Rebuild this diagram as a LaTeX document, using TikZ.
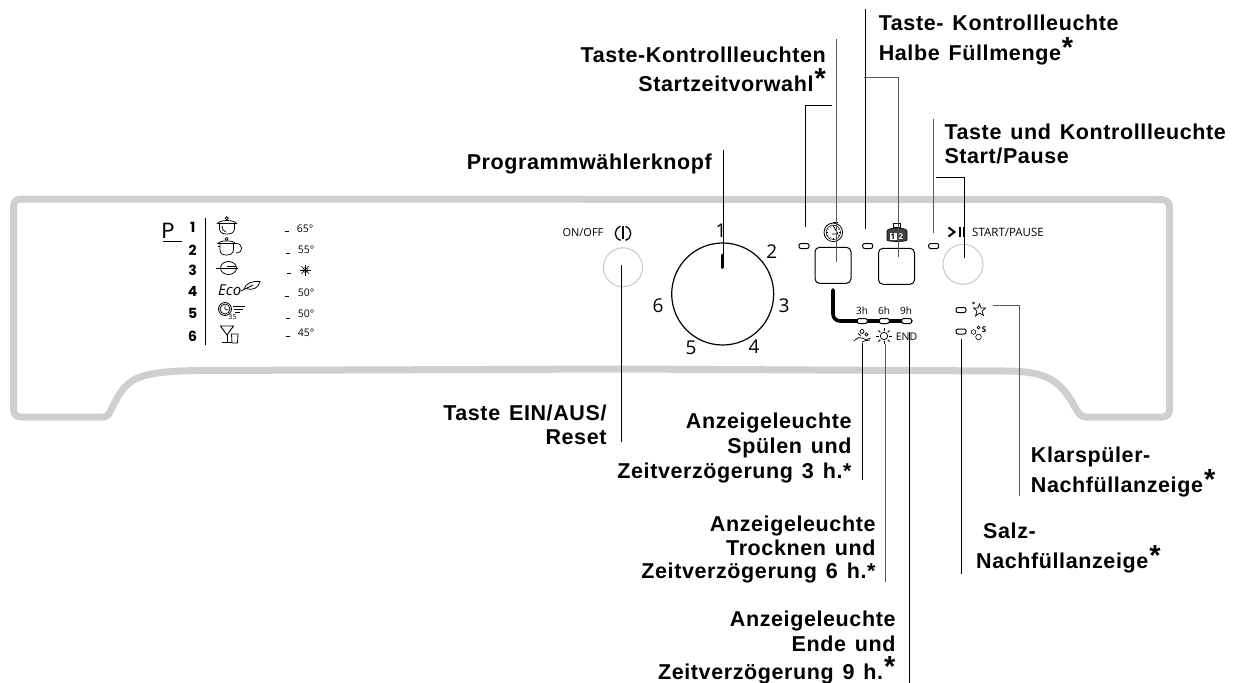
\documentclass[tikz,border=0pt]{standalone}
\usepackage{fontspec}
\setmainfont{Open Sans}
\newfontfamily\labf[WordSpace=1.35,LetterSpace=2.8]{Liberation Sans}
\newfontfamily\polyf{Poppins}
\tikzset{
  lab/.style={font=\labf\bfseries\fontsize{21.5}{23}\selectfont,inner sep=0pt},
  labl/.style={lab,anchor=base west},
  labr/.style={lab,anchor=base east},
  dial/.style={font=\fontsize{19}{22}\selectfont,inner sep=0pt,anchor=center},
  small/.style={font=\fontsize{11.5}{13}\selectfont,inner sep=0pt,anchor=center},
  hours/.style={font=\fontsize{10}{12}\selectfont,inner sep=0pt,anchor=center},
  prog/.style={font=\polyf\bfseries\fontsize{14}{15}\selectfont,inner sep=0pt,anchor=center},
  temp/.style={font=\fontsize{10.5}{12}\selectfont,inner sep=0pt,anchor=center},
  conn/.style={draw=black,line width=0.9pt},
  conng/.style={draw=black!65,line width=1pt},
  panelline/.style={draw=panelgray,line width=7pt,line join=round},
  ledbox/.style={draw=black,fill=white,line width=1pt,rounded corners=2pt,minimum width=10pt,minimum height=5pt,inner sep=0pt},
  btn/.style={draw=black,line width=1pt,rounded corners=4.5pt,minimum width=36pt,minimum height=36pt,inner sep=0pt},
  icon/.style={draw=black,line width=0.75pt},
  ring/.style={draw=ringgray,line width=1pt,circle,inner sep=0pt,minimum size=39pt},
}
\definecolor{panelgray}{HTML}{CFCFCF}
\definecolor{ringgray}{HTML}{C8C8C8}
\newcommand{\astbig}{\kern1pt\raisebox{3pt}{\fontsize{29}{29}\selectfont *}}
\begin{document}
\begin{tikzpicture}[x=1pt,y=-1pt]
\useasboundingbox (0,0) rectangle (1235,683);
% panel outline
\draw[panelline] (21,199) -- (1161,199.5) .. controls (1166,199.5) and (1169.5,202) .. (1169.5,207)
  -- (1169.5,409) .. controls (1169.5,414) and (1167,417) .. (1162,417) -- (1086,417)
  .. controls (1081,417) and (1079,414) .. (1076,409) .. controls (1068,394) and (1060,383) .. (1046,377)
  .. controls (1036,373) and (1024,371) .. (1005,371) -- (623,369) -- (200,370.5)
  .. controls (165,371) and (140,373) .. (128,384) .. controls (119,392) and (114,404) .. (110,412)
  .. controls (108,416) and (106,417) .. (102,417) -- (21,417)
  .. controls (16,417) and (13.5,414) .. (13.5,409) -- (13.5,207) .. controls (13.5,202) and (16,199) .. (21,199) -- cycle;

% program list
\node[font=\polyf\fontsize{22}{24}\selectfont,inner sep=0pt] (pP) at (168,231) {P};
\coordinate (pa) at (163,241.3); \coordinate (pb) at (182,241.3);
\draw[line width=0.7pt] (pa) -- (pb);
\node[prog] (n1) at (192.7,227) {1};
\node[prog] (n2) at (192.7,250) {2};
\node[prog] (n3) at (192.7,270) {3};
\node[prog] (n4) at (192.7,291) {4};
\node[prog] (n5) at (192.7,313) {5};
\node[prog] (n6) at (192.7,336) {6};
\coordinate (va) at (205.3,218); \coordinate (vb) at (205.3,345);
\draw[line width=0.8pt] (va) -- (vb);
% pot 1
\draw[icon] (219.5,224) -- (219.5,229) .. controls (220,233) and (223,234) .. (227,234) .. controls (231,234) and (234,233) .. (234.5,229) -- (234.5,224);
\draw[icon] (217.5,223.5) .. controls (220,219.5) and (234,219.5) .. (236.5,223.5) -- cycle;
\draw[icon] (226.7,218.3) circle (1.6pt);
\draw[icon] (222,226) .. controls (222,229) and (223,231) .. (226,232);
% pot 2
\draw[icon] (220,244) -- (220,250) .. controls (220.5,254) and (223,255) .. (226.5,255) .. controls (230,255) and (233,254) .. (233.5,250) -- (233.5,244);
\draw[icon] (218,243.5) .. controls (220,240) and (233,240) .. (235.5,243.5) -- cycle;
\draw[icon] (226.7,239) circle (1.5pt);
\draw[icon] (236,243.3) .. controls (243,243.5) and (244,253) .. (236,253);
\draw[icon] (217.5,246) -- (220,246);
% bowl
\draw[icon] (216,268) -- (237.5,268);
\draw[icon] (227,266) -- (236,266);
\draw[icon] (228.5,268) ellipse (8pt and 6.5pt);
% eco
\node[font=\rmfamily\itshape\fontsize{15}{16}\selectfont,inner sep=0pt,anchor=west] (eco) at (218,290) {Eco};
\draw[icon] (244,289) .. controls (246,283) and (252,281) .. (260,281.5) .. controls (259,288) and (252,291) .. (246,288.5);
\draw[icon] (241,291) -- (253,285);
% clock
\draw[icon,line width=0.8pt] (225,309) circle (6.5pt);
\draw[icon] (225,309) circle (5pt);
\draw[icon] (225,305.5) -- (225,309) -- (228,310);
\draw[icon] (233,306) -- (245,306) (234,309) -- (243,309) (235,312) -- (240,312);
\node[font=\fontsize{7}{8}\selectfont,inner sep=0pt] (c35) at (232.5,316.5) {35};
% glass
\draw[icon,line width=0.9pt] (220.5,326) -- (233.5,326) -- (227,335) -- cycle;
\draw[icon,line width=0.9pt] (227,335) -- (227,342.5) (221.5,342.5) -- (232,342.5);
\draw[icon,line width=0.8pt] (231.5,334) -- (232,343) -- (237.5,343) -- (238,334) -- cycle;
% temperatures
\coordinate (d1a) at (285,231); \coordinate (d1b) at (289,231);
\draw[line width=0.6pt] (d1a) -- (d1b);
\coordinate (d2a) at (286,253); \coordinate (d2b) at (290,253);
\draw[line width=0.6pt] (d2a) -- (d2b);
\coordinate (d3a) at (287,273); \coordinate (d3b) at (291,273);
\draw[line width=0.6pt] (d3a) -- (d3b);
\coordinate (d4a) at (285,296); \coordinate (d4b) at (289,296);
\draw[line width=0.6pt] (d4a) -- (d4b);
\coordinate (d5a) at (286,318); \coordinate (d5b) at (290,318);
\draw[line width=0.6pt] (d5a) -- (d5b);
\coordinate (d6a) at (286,336); \coordinate (d6b) at (290,336);
\draw[line width=0.6pt] (d6a) -- (d6b);
\node[temp] (t1) at (305,229) {65°};
\node[temp] (t2) at (306,250) {55°};
\node[temp] (t4) at (306,293) {50°};
\node[temp] (t5) at (306,314) {50°};
\node[temp] (t6) at (306,333) {45°};
% snowflake
\foreach \a in {0,45,90,135}{
  \draw[icon,line width=0.5pt] (305.3,270) ++(\a:5.5pt) -- ++(\a+180:11pt);
}
\draw[icon,line width=0.4pt] (305.3,270) circle (2.5pt);

% ON/OFF
\node[small,font=\fontsize{11}{13}\selectfont] (onoff) at (583,233) {ON/OFF};
\draw[line width=1.3pt] (620.5,226.3) .. controls (613.5,229) and (613.5,238) .. (620.5,240.3);
\draw[line width=1.3pt] (625.5,226.3) .. controls (632.5,229) and (632.5,238) .. (625.5,240.3);
\draw[line width=1.6pt] (623,225.5) -- (623,239);
\node[ring] (onring) at (623,267.3) {};

% knob
\node[draw=black,line width=1.2pt,circle,inner sep=0pt,minimum size=102pt] (knob) at (722.7,294) {};
\coordinate (ta) at (722.7,255); \coordinate (tb) at (722.7,267.5);
\draw[line width=3pt,line cap=round] (ta) -- (tb);
\node[dial] (k1) at (721,231) {1};
\node[dial] (k2) at (771.7,251.5) {2};
\node[dial] (k3) at (784,306) {3};
\node[dial] (k4) at (754,346.7) {4};
\node[dial] (k5) at (691,348) {5};
\node[dial] (k6) at (658,305.7) {6};

% thick bar with hour lights
\coordinate (ba) at (833,290); \coordinate (bb) at (911,321);
\draw[line width=3.6pt,line cap=round,rounded corners=7pt] (ba) -- (833,321) -- (bb);
\node[ledbox] (l3) at (862.3,321) {};
\node[ledbox] (l6) at (884.3,321) {};
\node[ledbox] (l9) at (906.7,321) {};
\node[hours] (h3) at (862,311) {3h};
\node[hours] (h6) at (884,311) {6h};
\node[hours] (h9) at (906,311) {9h};

% timer + buttons
\node[ledbox] (la) at (804,246) {};
\node[ledbox] (lb) at (867.7,246) {};
\node[ledbox] (lc) at (933.7,246) {};
\node[btn] (b1) at (833,265.3) {};
\node[btn] (b2) at (896.5,266.3) {};
\node[ring,minimum size=40pt] (startring) at (963,264.3) {};
% timer icon
\draw[icon,line width=0.8pt] (833.3,232.3) circle (9.3pt);
\draw[icon,line width=0.5pt] (833.3,232.3) circle (7.2pt);
\foreach \a in {0,30,...,330}{\draw[icon,line width=0.4pt] (833.3,232.3) ++(\a:5.5pt) -- ++(\a:1.7pt);}
\draw[icon,line width=1pt] (833,222.5) -- (838,222.5);
\draw[icon,line width=0.8pt] (834,227) -- (838,234) -- (832,234);
% weight icon
\filldraw[draw=black,fill=white,line width=0.7pt] (893,223.5) rectangle (900.5,227);
\filldraw[draw=black,fill=black!75,line width=0.6pt] (887,231) .. controls (887,227) and (907,227) .. (907,231) -- (907,240) .. controls (907,242) and (887,242) .. (887,240) -- cycle;
\fill[white] (889.5,233) rectangle (896.5,240);
\node[font=\bfseries\fontsize{8}{8}\selectfont,text=black,inner sep=0pt] (w1) at (893,236.5) {1};
\node[font=\bfseries\fontsize{8}{8}\selectfont,text=white,inner sep=0pt] (w2) at (901,236.5) {2};

% start/pause
\draw[line width=2pt] (948.5,227.5) -- (954.5,232) -- (948.5,236.5);
\draw[line width=1.3pt] (960,227) -- (960,236.5);
\draw[line width=1.3pt] (964,227) -- (964,236.5);
\node[small] (sp) at (1008,232.5) {START/PAUSE};

% indicators right
\node[ledbox] (lr1) at (961,310) {};
\node[ledbox] (lr2) at (961,331.5) {};
\draw[icon,line width=0.7pt] (979.5,304) -- (981,308) -- (985.5,308) -- (982,311) -- (983.5,315.5) -- (979.5,313) -- (975.5,316) -- (977,311) -- (973.5,308) -- (978,308) -- cycle;
\draw[icon,line width=0.5pt] (973.5,303) circle (1pt);
\draw[icon,line width=0.6pt] (978.5,337) circle (2.8pt);
\draw[icon,line width=0.6pt] (973.5,332) circle (2.3pt);
\draw[icon,line width=0.6pt] (978.5,327.5) circle (1.4pt);
\node[font=\bfseries\fontsize{8}{9}\selectfont,inner sep=0pt] (ss) at (984,330) {S};

% swimmer
\draw[icon] (854,341) .. controls (858,337) and (860,337) .. (862,338) .. controls (864,340) and (867,340) .. (870.5,338);
\draw[icon] (861,336) -- (858,333.5);
\draw[icon] (862,342) .. controls (864,340.5) and (867,340.5) .. (870,340);
\draw[icon] (862,331.5) circle (2pt);
\draw[icon] (866.5,334.5) circle (1.6pt);
% sun
\draw[icon] (884,336) circle (3.7pt);
\foreach \a in {0,45,...,315}{\draw[icon] (884,336) ++(\a:5.3pt) -- ++(\a:2.5pt);}
\node[small,font=\fontsize{10.5}{12}\selectfont] (endt) at (906.5,336.5) {END};

% connectors
\coordinate (c1) at (805.7,105);\coordinate (c1h) at (832,105);\coordinate (c1b) at (805.7,226.7);
\draw[conn] (c1h) -- (c1) -- (c1b);
\coordinate (c2a) at (836,38.5);\coordinate (c2b) at (836,262);
\draw[conng] (c2a) -- (c2b);
\coordinate (c3a) at (865.3,9);\coordinate (c3b) at (865.3,229);
\draw[conn] (c3a) -- (c3b);
\coordinate (c4h) at (864,77);\coordinate (c4c) at (898,77);\coordinate (c4b) at (898,257);
\draw[conng] (c4h) -- (c4c) -- (c4b);
\coordinate (c5a) at (933.7,118.5);\coordinate (c5b) at (933.7,233);
\draw[conng] (c5a) -- (c5b);
\coordinate (c6h) at (936,177);\coordinate (c6c) at (964.3,177);\coordinate (c6b) at (964.3,258);
\draw[conn] (c6h) -- (c6c) -- (c6b);
\coordinate (c7a) at (723,150);\coordinate (c7b) at (723,262);
\draw[conn] (c7a) -- (c7b);
\coordinate (c8a) at (621.7,265);\coordinate (c8b) at (621.7,442);
\draw[conn] (c8a) -- (c8b);
\coordinate (c9a) at (862.3,343);\coordinate (c9b) at (862.3,480);
\draw[conn] (c9a) -- (c9b);
\coordinate (c10a) at (885,344);\coordinate (c10b) at (885,581.7);
\draw[conng] (c10a) -- (c10b);
\coordinate (c11a) at (909.3,332);\coordinate (c11b) at (909.3,683);
\draw[conn] (c11a) -- (c11b);
\coordinate (c12a) at (961.3,339);\coordinate (c12b) at (961.3,574);
\draw[conn] (c12a) -- (c12b);
\coordinate (c13h) at (992.5,305.5);\coordinate (c13c) at (1019,305.5);\coordinate (c13b) at (1019,496);
\draw[conng] (c13h) -- (c13c) -- (c13b);

% labels
\node[labl] (a1) at (878.6,30.7) {Taste- Kontrollleuchte};
\node[labl] (a2) at (878.6,60) {Halbe Füllmenge\astbig};
\node[labr] (b1t) at (826,62.7) {Taste-Kontrollleuchten};
\node[labr] (b2t) at (826,91.7) {Startzeitvorwahl\astbig};
\node[labl] (c1t) at (944.3,139.3) {Taste und Kontrollleuchte};
\node[labl] (c2t) at (944.3,163.3) {Start/Pause};
\node[labr] (d1t) at (712,169) {Programmwählerknopf};
\node[labr] (e1t) at (606.7,420) {Taste EIN/AUS/};
\node[labr] (e2t) at (606.7,444) {Reset};
\node[labr] (f1t) at (851.7,428) {Anzeigeleuchte};
\node[labr] (f2t) at (851.7,453) {Spülen und};
\node[labr] (f3t) at (851.7,478) {Zeitverzögerung 3 h.*};
\node[labr] (g1t) at (875.7,531) {Anzeigeleuchte};
\node[labr] (g2t) at (875.7,555) {Trocknen und};
\node[labr] (g3t) at (875.7,578) {Zeitverzögerung 6 h.*};
\node[labr] (h1t) at (895.7,626.7) {Anzeigeleuchte};
\node[labr] (h2t) at (895.7,651) {Ende und};
\node[labr] (h3t) at (895.7,679) {Zeitverzögerung 9 h.\astbig};
\node[labl] (i1t) at (1030.7,462.7) {Klarspüler-};
\node[labl] (i2t) at (1030.7,492.3) {Nachfüllanzeige\astbig};
\node[labl] (j1t) at (983,538) {Salz-};
\node[labl] (j2t) at (976,568) {Nachfüllanzeige\astbig};
\end{tikzpicture}
\end{document}
